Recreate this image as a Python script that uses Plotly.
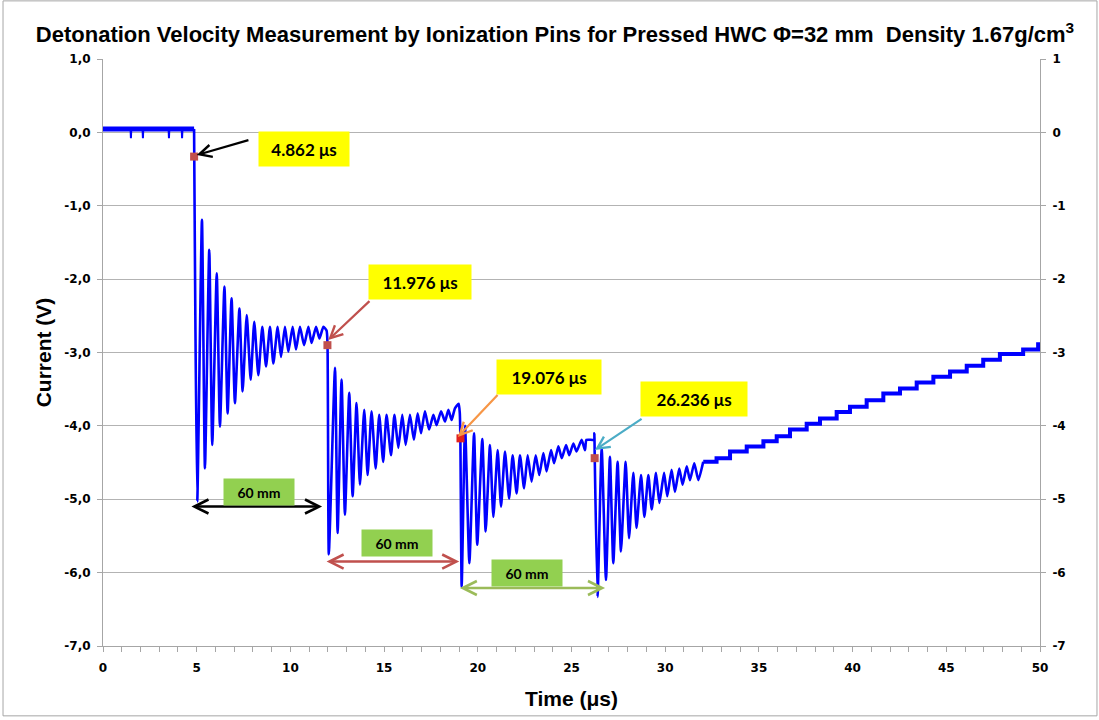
import plotly.graph_objects as go

# ---------------- data ----------------
# pre-trigger baseline (time in microseconds, current in V)
base_t = [0.0, 1.47, 1.49, 1.51, 2.11, 2.13, 2.15, 3.50, 3.52, 3.54, 4.20, 4.22, 4.24, 4.86]
base_v = [0.045, 0.045, -0.08, 0.045, 0.045, -0.08, 0.045, 0.045, -0.08, 0.045, 0.045, -0.08, 0.045, 0.045]

# ringing after each ionization pin (peaks / troughs)
ring_t = [4.86, 4.87, 4.93, 5.03,
          5.28, 5.44, 5.67, 5.83, 6.07, 6.24, 6.48, 6.65, 6.86, 7.04, 7.28, 7.45, 7.67, 7.88,
          8.07, 8.29, 8.50, 8.70, 8.91, 9.09, 9.32, 9.50, 9.71, 9.89, 10.12, 10.30, 10.51,
          10.73, 10.96, 11.13, 11.37, 11.55, 11.76, 11.93, 11.98, 12.05,
          12.38, 12.52, 12.73, 12.91, 13.14, 13.32, 13.53, 13.71, 13.94, 14.12, 14.33, 14.55,
          14.74, 14.95, 15.13, 15.37, 15.55, 15.76, 15.97, 16.15, 16.38, 16.59, 16.79, 16.97,
          17.18, 17.40, 17.63, 17.80, 18.04, 18.25, 18.43, 18.60, 18.78, 18.98, 19.04, 19.07, 19.14,
          19.32, 19.55, 19.80, 19.97, 20.24, 20.42, 20.65, 20.83, 21.06, 21.24, 21.45, 21.67,
          21.86, 22.07, 22.25, 22.47, 22.66, 22.87, 23.09, 23.28, 23.50, 23.67, 23.91, 24.07,
          24.30, 24.48, 24.71, 24.88, 25.10, 25.27, 25.54, 25.72, 25.80, 26.20, 26.22, 26.24, 26.39,
          26.61, 26.84, 27.05, 27.23, 27.46, 27.64, 27.89, 28.07, 28.30, 28.47, 28.71, 28.89,
          29.10, 29.28, 29.51, 29.69, 29.94, 30.11, 30.34, 30.52, 30.75, 30.93, 31.15, 31.32,
          31.55, 31.77, 32.03]
ring_v = [0.045, -0.33, -2.60, -5.03,
          -1.19, -4.58, -1.60, -4.26, -1.92, -4.01, -2.10, -3.83, -2.26, -3.69, -2.40, -3.53, -2.49, -3.37,
          -2.58, -3.31, -2.65, -3.19, -2.65, -3.15, -2.65, -3.06, -2.65, -2.99, -2.65, -2.96, -2.65,
          -2.90, -2.65, -2.87, -2.65, -2.81, -2.65, -2.70, -2.90, -5.75,
          -3.21, -5.46, -3.37, -5.21, -3.55, -4.96, -3.69, -4.80, -3.78, -4.67, -3.80, -4.58,
          -3.85, -4.49, -3.85, -4.40, -3.85, -4.30, -3.85, -4.26, -3.85, -4.19, -3.83, -4.10,
          -3.80, -4.05, -3.85, -3.99, -3.80, -3.94, -3.78, -3.92, -3.76, -3.70, -3.83, -4.17, -6.19,
          -4.00, -5.87, -4.10, -5.62, -4.18, -5.44, -4.26, -5.24, -4.33, -5.10, -4.35, -4.99,
          -4.40, -4.92, -4.40, -4.85, -4.40, -4.76, -4.40, -4.67, -4.37, -4.62, -4.33, -4.51,
          -4.28, -4.44, -4.26, -4.40, -4.24, -4.35, -4.19, -4.33, -4.19, -4.19, -4.10, -4.44, -6.33,
          -4.30, -6.10, -4.42, -5.87, -4.49, -5.71, -4.49, -5.53, -4.64, -5.39, -4.67, -5.24,
          -4.67, -5.14, -4.64, -5.05, -4.64, -4.96, -4.60, -4.90, -4.58, -4.80, -4.55, -4.74,
          -4.51, -4.74, -4.49]

# slow recovery (quantized staircase)
stair_t = [32.03, 32.74, 33.46, 34.35, 35.24, 35.95, 36.66, 37.55, 38.26, 39.15, 39.86, 40.75,
           41.64, 42.53, 43.42, 44.31, 45.20, 46.09, 46.97, 47.86, 49.10, 49.90]
stair_v = [-4.49, -4.44, -4.35, -4.28, -4.21, -4.14, -4.05, -3.97, -3.90, -3.81, -3.74, -3.65,
           -3.56, -3.49, -3.41, -3.33, -3.26, -3.18, -3.10, -3.02, -2.96, -2.86]

# pin arrival markers
pin_t = [4.862, 11.976, 19.076, 26.236]
pin_v = [-0.33, -2.90, -4.17, -4.44]
pin_colors = ["#c0504d", "#c0504d", "#e3211c", "#c0504d"]
arrow_colors = ["#000000", "#c0504d", "#f79646", "#4bacc6"]

# label boxes (center t, center v) and arrow tails
label_t = [10.73, 16.92, 23.80, 31.54]
label_v = [-0.23, -2.04, -3.33, -3.63]
label_w = [88, 100, 102, 104]
tail_t = [7.84, 14.30, 21.13, 28.82]
tail_v = [-0.10, -2.28, -3.56, -3.89]
tip_t = [5.00, 12.02, 18.94, 26.25]
tip_v = [-0.31, -2.83, -4.15, -4.33]

# spacing arrows between pins
span_text = ["60 mm", "60 mm", "60 mm"]
span_t0 = [4.64, 11.85, 18.96]
span_t1 = [11.69, 19.01, 26.79]
span_v = [-5.10, -5.85, -6.21]
span_colors = ["#000000", "#c0504d", "#9bbb59"]
span_box_t = [8.31, 15.67, 22.61]
span_box_v = [-4.90, -5.60, -6.01]

y_ticks = [1, 0, -1, -2, -3, -4, -5, -6, -7]
y_left_text = ["1,0", "0,0", "-1,0", "-2,0", "-3,0", "-4,0", "-5,0", "-6,0", "-7,0"]
y_right_text = ["1", "0", "-1", "-2", "-3", "-4", "-5", "-6", "-7"]

# ---------------- figure ----------------
BLUE = "#0000ff"
TICKFONT = dict(family="DejaVu Sans, Verdana, sans-serif", size=12, color="#000000", weight="bold")
fig = go.Figure()
fig.add_trace(go.Scatter(x=base_t, y=base_v, mode="lines",
                         line=dict(color=BLUE, width=2), hoverinfo="skip", showlegend=False))
fig.add_trace(go.Scatter(x=[base_t[0], base_t[-1]], y=[base_v[0], base_v[-1]], mode="lines",
                         line=dict(color=BLUE, width=5), hoverinfo="skip", showlegend=False))
fig.add_trace(go.Scatter(x=ring_t, y=ring_v, mode="lines",
                         line=dict(color=BLUE, width=2.6, shape="spline", smoothing=0.5),
                         showlegend=False))
fig.add_trace(go.Scatter(x=stair_t, y=stair_v, mode="lines",
                         line=dict(color=BLUE, width=4, shape="hv"), showlegend=False))
fig.add_trace(go.Scatter(x=pin_t, y=pin_v, mode="markers",
                         marker=dict(symbol="square", size=8, color=pin_colors),
                         showlegend=False))
# invisible trace to carry the right axis
fig.add_trace(go.Scatter(x=[0], y=[0], yaxis="y2", mode="markers",
                         marker=dict(opacity=0), hoverinfo="skip", showlegend=False))

annotations = []
for i in range(len(pin_t)):
    annotations.append(dict(
        x=label_t[i], y=label_v[i], xref="x", yref="y", showarrow=False,
        text=f"<b>{pin_t[i]:.3f} μs</b>", bgcolor="#ffff00", width=label_w[i], height=32,
        font=dict(family="Lato, Open Sans, sans-serif", size=17, color="#000000")))
    annotations.append(dict(
        x=tip_t[i], y=tip_v[i], ax=tail_t[i], ay=tail_v[i], xref="x", yref="y",
        axref="x", ayref="y", text="", showarrow=True, arrowhead=5, arrowsize=1.1,
        arrowwidth=2.2, arrowcolor=arrow_colors[i], standoff=0))
for i in range(len(span_t0)):
    annotations.append(dict(
        x=span_t1[i], y=span_v[i], ax=span_t0[i], ay=span_v[i], xref="x", yref="y",
        axref="x", ayref="y", text="", showarrow=True, arrowhead=5, startarrowhead=5,
        arrowside="end+start", arrowsize=1.1, startarrowsize=1.1, arrowwidth=2.5,
        arrowcolor=span_colors[i]))
    annotations.append(dict(
        x=span_box_t[i], y=span_box_v[i], xref="x", yref="y", showarrow=False,
        text=f"<b>{span_text[i]}</b>", bgcolor="#92d050", width=68, height=24,
        font=dict(family="Lato, Open Sans, sans-serif", size=14, color="#000000")))

fig.update_layout(
    width=1099, height=720, autosize=False,
    paper_bgcolor="#ffffff", plot_bgcolor="#ffffff",
    margin=dict(l=103, r=59, t=59, b=74),
    title=dict(text="<b>Detonation Velocity Measurement by Ionization Pins for Pressed HWC Φ=32 mm  Density 1.67g/cm<sup>3</sup></b>",
               x=0.505, xanchor="center", y=0.952, yanchor="middle",
               font=dict(family="Liberation Sans, Arial, sans-serif", size=22, color="#000000")),
    xaxis=dict(range=[0, 50], dtick=5, tick0=0, showgrid=False, zeroline=False,
               showline=True, linecolor="#a6a6a6", linewidth=1,
               ticks="outside", ticklen=5, tickcolor="#a6a6a6", ticklabelstandoff=6,
               minor=dict(dtick=1, ticks="outside", ticklen=5, tickcolor="#a6a6a6"),
               tickfont=TICKFONT,
               title=dict(text="<b>Time (μs)</b>", standoff=16,
                          font=dict(family="Liberation Sans, Arial, sans-serif", size=21, color="#000000"))),
    yaxis=dict(range=[-7, 1], tickvals=y_ticks, ticktext=y_left_text,
               showgrid=True, gridcolor="#b3b3b3", gridwidth=1, zeroline=False,
               showline=True, linecolor="#a6a6a6", linewidth=1,
               ticks="outside", ticklen=5, tickcolor="#a6a6a6", ticklabelstandoff=4,
               tickfont=TICKFONT,
               title=dict(text="<b>Current (V)</b>", standoff=6,
                          font=dict(family="Liberation Sans, Arial, sans-serif", size=21, color="#000000"))),
    yaxis2=dict(range=[-7, 1], tickvals=y_ticks, ticktext=y_right_text, overlaying="y", side="right",
                showgrid=False, zeroline=False, showline=True, linecolor="#a6a6a6", linewidth=1,
                ticks="outside", ticklen=5, tickcolor="#a6a6a6", ticklabelstandoff=4,
                tickfont=TICKFONT),
    annotations=annotations,
    shapes=[dict(type="rect", xref="paper", yref="paper",
                 x0=-0.1067, x1=1.0608, y0=-0.119, y1=1.099,
                 line=dict(color="#a6a6a6", width=1), fillcolor="rgba(0,0,0,0)", layer="below")],
)

fig.write_html("out.html", config={"displayModeBar": False},
               post_script="document.body.style.margin='0';")
